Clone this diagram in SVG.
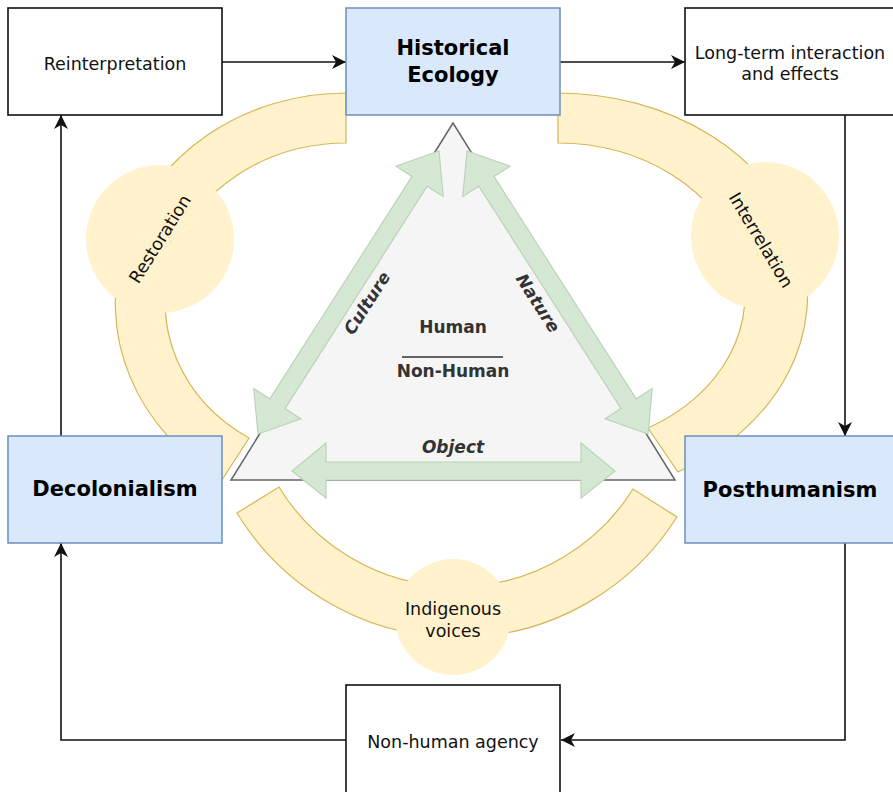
<svg xmlns="http://www.w3.org/2000/svg" width="893" height="792" viewBox="0 0 893 792">
<defs>
<style>
.box{fill:#fff;stroke:#111;stroke-width:1.6}
.blue{fill:#dae8fc;stroke:#6c8ebf;stroke-width:1.5}
.lbl{font-family:"DejaVu Sans",Verdana,sans-serif;font-size:17.5px;fill:#111;text-anchor:middle}
.big{font-family:"DejaVu Sans",Verdana,sans-serif;font-size:21px;font-weight:bold;fill:#000;text-anchor:middle}
.tri{font-family:"DejaVu Sans",Verdana,sans-serif;font-size:17px;font-weight:bold;fill:#333;text-anchor:middle}
.it{font-style:italic}
.arc{fill:#fff2cc;stroke:#d6b656;stroke-width:1.2}
.dot{fill:#fff2cc;stroke:none}
.grn{fill:#d5e8d4;stroke:#bcd3b8;stroke-width:1.2}
.con{fill:none;stroke:#111;stroke-width:1.6}
</style>
<marker id="arr" viewBox="0 0 16 16" refX="15" refY="8" markerWidth="16" markerHeight="16" markerUnits="userSpaceOnUse" orient="auto">
<path d="M1,1 L15,8 L1,15 L5,8 Z" fill="#111"/>
</marker>
</defs>
<rect width="893" height="792" fill="#fff"/>

<g id="connectors">
<path class="con" d="M222 62 H346" marker-end="url(#arr)"/>
<path class="con" d="M560 62 H685" marker-end="url(#arr)"/>
<path class="con" d="M845 115 V436" marker-end="url(#arr)"/>
<path class="con" d="M845 543 V740 H561" marker-end="url(#arr)"/>
<path class="con" d="M346 740 H61 V543" marker-end="url(#arr)"/>
<path class="con" d="M61 436 V115" marker-end="url(#arr)"/>
</g>

<g id="arcs">
<path class="arc" d="M346 93 A231 210 0 0 0 222 480 L249 438 A181 160 0 0 1 346 143 Z"/>
<path class="arc" d="M558 93 A250 202 0 0 1 678 472 L648 428 A188 152 0 0 0 558 143 Z"/>
<path class="arc" d="M237 513 A259 259 0 0 0 677 517 L633 489 A208 208 0 0 1 279 487 Z"/>
</g>

<g id="restoration">
<circle class="dot" cx="160" cy="239" r="74"/>
<text class="lbl" transform="translate(160,239) rotate(-58)" y="6">Restoration</text>
</g>
<g id="interrelation">
<circle class="dot" cx="765" cy="236" r="74"/>
<text class="lbl" transform="translate(761,240) rotate(59)" y="6">Interrelation</text>
</g>
<g id="indigenous">
<circle class="dot" cx="453" cy="617" r="58"/>
<text class="lbl" x="453" y="615">Indigenous</text>
<text class="lbl" x="453" y="637">voices</text>
</g>

<g id="triangle">
<polygon points="453,123 231,480 675,480" fill="#f5f5f5" stroke="#666" stroke-width="1.5"/>
<text class="tri" x="453" y="333">Human</text>
<line x1="402" y1="357" x2="503" y2="357" stroke="#333" stroke-width="1.5"/>
<text class="tri" x="453" y="377">Non-Human</text>
</g>

<g id="culture">
<polygon class="grn" transform="translate(348.5,292.5) rotate(-57.4)" points="-168,0 -132,-28 -132,-9 132,-9 132,-28 168,0 132,28 132,9 -132,9 -132,28"/>
<text class="tri it" transform="translate(367,303) rotate(-57.4)" y="6">Culture</text>
</g>
<g id="nature">
<polygon class="grn" transform="translate(557.5,292.5) rotate(57.4)" points="-168,0 -132,-28 -132,-9 132,-9 132,-28 168,0 132,28 132,9 -132,9 -132,28"/>
<text class="tri it" transform="translate(538,303) rotate(57.4)" y="6">Nature</text>
</g>
<g id="object">
<polygon class="grn" points="292,471 326,443 326,462 581,462 581,443 615,471 581,498 581,480 326,480 326,498"/>
<text class="tri it" x="453" y="453">Object</text>
</g>

<g id="reinterpretation">
<rect class="box" x="8" y="8" width="214" height="107"/>
<text class="lbl" x="115" y="70">Reinterpretation</text>
</g>
<g id="historical-ecology">
<rect class="blue" x="346" y="8" width="214" height="107"/>
<text class="big" x="453" y="55">Historical</text>
<text class="big" x="453" y="82">Ecology</text>
</g>
<g id="long-term">
<rect class="box" x="685" y="8" width="214" height="107"/>
<text class="lbl" x="790" y="59">Long-term interaction</text>
<text class="lbl" x="790" y="80">and effects</text>
</g>
<g id="decolonialism">
<rect class="blue" x="8" y="436" width="214" height="107"/>
<text class="big" x="115" y="496">Decolonialism</text>
</g>
<g id="posthumanism">
<rect class="blue" x="685" y="436" width="214" height="107"/>
<text class="big" x="790" y="497">Posthumanism</text>
</g>
<g id="non-human-agency">
<rect class="box" x="346" y="685" width="214" height="112"/>
<text class="lbl" x="453" y="748">Non-human agency</text>
</g>
</svg>
